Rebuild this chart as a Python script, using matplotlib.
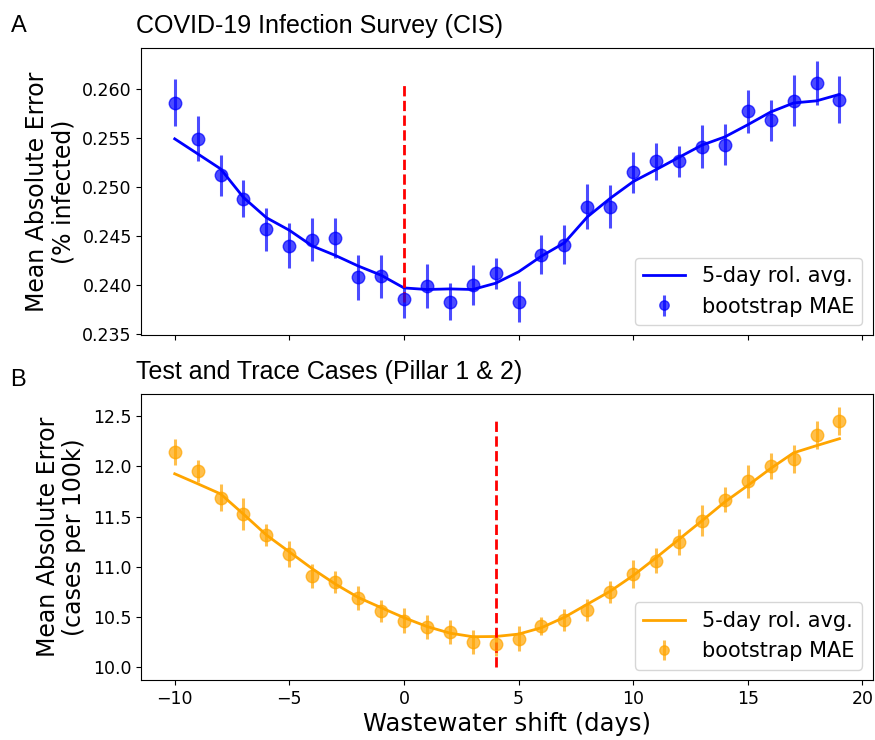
import numpy as np
import pandas as pd
import matplotlib
matplotlib.use('Agg')
import matplotlib.pyplot as plt

plt.rcParams['font.family'] = ['DejaVu Sans']

# wastewater shift in days
shift = list(range(-10, 20))

# panel A: CIS, bootstrap MAE and its spread
cis_mae = [0.2586, 0.2549, 0.2512, 0.2488, 0.2457, 0.2440, 0.2446, 0.2448, 0.2408, 0.2409,
           0.2386, 0.2399, 0.2383, 0.2400, 0.2412, 0.2383, 0.2431, 0.2441, 0.2480, 0.2480,
           0.2515, 0.2526, 0.2526, 0.2541, 0.2543, 0.2577, 0.2568, 0.2588, 0.2606, 0.2589]
cis_err = [0.0024, 0.0023, 0.0021, 0.0019, 0.0022, 0.0023, 0.0022, 0.0020, 0.0023, 0.0022,
           0.0020, 0.0022, 0.0019, 0.0020, 0.0016, 0.0021, 0.0020, 0.0020, 0.0023, 0.0022,
           0.0021, 0.0019, 0.0016, 0.0022, 0.0021, 0.0022, 0.0021, 0.0026, 0.0022, 0.0024]

# panel B: test and trace cases
tt_mae = [12.14, 11.95, 11.69, 11.53, 11.32, 11.13, 10.91, 10.85, 10.69, 10.56,
          10.46, 10.40, 10.35, 10.25, 10.23, 10.28, 10.41, 10.47, 10.57, 10.75,
          10.93, 11.06, 11.25, 11.46, 11.67, 11.85, 12.00, 12.07, 12.31, 12.45]
tt_err = [0.13, 0.11, 0.13, 0.16, 0.11, 0.13, 0.12, 0.11, 0.12, 0.11,
          0.125, 0.12, 0.12, 0.12, 0.12, 0.125, 0.09, 0.11, 0.11, 0.11,
          0.14, 0.125, 0.13, 0.155, 0.12, 0.16, 0.13, 0.14, 0.14, 0.14]

best_cis = 0
best_tt = 4
cis_vline = (0.2383, 0.2607)
tt_vline = (10.0, 12.48)

fig = plt.figure(figsize=(8.75, 7.4), dpi=100)
ax1 = fig.add_axes([0.1617, 0.5469, 0.8357, 0.3878])
ax2 = fig.add_axes([0.1617, 0.0811, 0.8357, 0.3861], sharex=ax1)

title_font = 'Liberation Sans'

panels = [
    (ax1, cis_mae, cis_err, 'blue', best_cis, cis_vline,
     'Mean Absolute Error\n(% infected)', 'COVID-19 Infection Survey (CIS)', 'A'),
    (ax2, tt_mae, tt_err, 'orange', best_tt, tt_vline,
     'Mean Absolute Error\n(cases per 100k)', 'Test and Trace Cases (Pillar 1 & 2)', 'B'),
]

for ax, mae, err, col, best, vl, ylab, title, letter in panels:
    roll = pd.Series(mae).rolling(5, center=True, min_periods=1).mean()
    ax.plot(shift, roll, color=col, lw=2, label='5-day rol. avg.')
    ax.errorbar(shift, mae, yerr=err, fmt='o', color=col, ms=9, elinewidth=2.2,
                alpha=0.7, label='bootstrap MAE')
    ax.vlines(best, vl[0], vl[1], colors='red', linestyles='dashed', lw=2)
    ax.set_ylabel(ylab, fontsize=17, linespacing=1.1, labelpad=5)
    ax.text(-0.008, 1.035, title, transform=ax.transAxes, fontsize=18,
            family=title_font, ha='left', va='bottom')
    ax.legend(loc='lower right', fontsize=15, markerscale=0.75)
    ax.tick_params(labelsize=12.5)

ax1.tick_params(labelbottom=False)
ax1.set_yticks([0.235, 0.240, 0.245, 0.250, 0.255, 0.260])
ax1.set_yticklabels(['0.235', '0.240', '0.245', '0.250', '0.255', '0.260'])
ax2.set_yticks([10.0, 10.5, 11.0, 11.5, 12.0, 12.5])
ax2.set_xticks([-10, -5, 0, 5, 10, 15, 20])
ax2.set_xlabel('Wastewater shift (days)', fontsize=17.5, labelpad=3)

fig.text(0.012, 0.965, 'A', fontsize=17, family=title_font, va='center')
fig.text(0.012, 0.487, 'B', fontsize=17, family=title_font, va='center')

fig.savefig('out.png', dpi=100)
